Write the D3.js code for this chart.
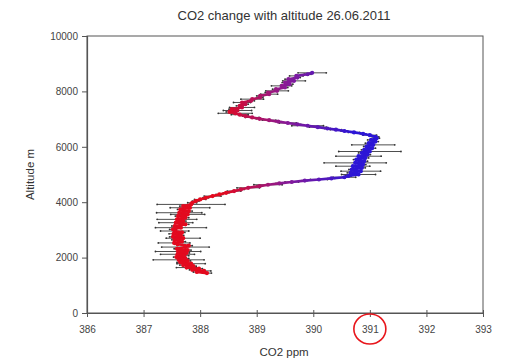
<!DOCTYPE html>
<html>
<head>
<meta charset="utf-8">
<script src="https://cdn.jsdelivr.net/npm/d3@7"></script>
<style>
body { margin: 0; background: #fff; }
text { font-family: "Liberation Sans", Arial, sans-serif; }
</style>
</head>
<body>
<div id="chart"></div>
<script>
// profile: altitude (m), CO2 (ppm), error half width (ppm)
var altitude = [1440, 1480, 1520, 1560, 1600, 1640, 1690, 1730, 1780, 1830, 1880, 1920, 1970, 2020, 2070, 2120, 2170, 2220, 2270, 2320, 2380, 2430, 2480, 2530, 2580, 2640, 2700, 2750, 2800, 2860, 2910, 2960, 3020, 3080, 3140, 3200, 3260, 3320, 3380, 3440, 3500, 3560, 3620, 3680, 3740, 3800, 3860, 3920, 3980,
    4040, 4100, 4160, 4220, 4280, 4340, 4400, 4460, 4520, 4580, 4630, 4680, 4730, 4780, 4820, 4860, 4900,
    4950, 5000, 5060, 5120, 5180, 5240, 5300, 5360, 5420, 5480, 5540, 5600, 5660, 5720, 5780, 5830, 5890, 5950, 6010, 6070, 6130, 6190, 6250, 6310, 6360,
    6420, 6470, 6520, 6570, 6620, 6660, 6710, 6760, 6810, 6860, 6910, 6960, 7010, 7060, 7110, 7160, 7210,
    7260, 7310, 7360, 7420, 7480, 7540, 7600, 7660, 7720, 7780, 7840, 7900, 7960, 8020, 8080, 8140, 8200, 8260, 8320, 8380, 8440, 8500, 8560, 8620, 8670];
var co2 = [388.12, 387.94, 388.07, 387.86, 387.98, 387.76, 387.88, 387.70, 387.84, 387.65, 387.78, 387.62, 387.74, 387.58, 387.72, 387.60, 387.76, 387.61, 387.78, 387.59, 387.74, 387.80, 387.60, 387.54, 387.68, 387.55, 387.70, 387.52, 387.66, 387.53, 387.68, 387.55, 387.52, 387.66, 387.55, 387.74, 387.57, 387.70, 387.59, 387.74, 387.61, 387.78, 387.63, 387.80, 387.65, 387.82, 387.70, 387.84, 387.86,
    387.92, 388.00, 388.10, 388.22, 388.34, 388.46, 388.60, 388.72, 388.85, 389.05, 389.20, 389.40, 389.62, 389.85, 390.10, 390.32, 390.55,
    390.62, 390.80, 390.66, 390.84, 390.68, 390.86, 390.70, 390.88, 390.74, 390.90, 390.76, 390.92, 390.80, 390.96, 390.86, 391.00, 390.90, 391.04, 390.94, 391.06, 390.98, 391.10, 391.02, 391.12, 391.10,
    391.00, 390.88, 390.72, 390.55, 390.40, 390.25, 390.08, 389.90, 389.72, 389.55, 389.38, 389.22, 389.05, 388.92, 388.80, 388.70, 388.62,
    388.52, 388.66, 388.56, 388.74, 388.70, 388.80, 388.74, 388.90, 388.92, 389.06, 389.06, 389.22, 389.20, 389.36, 389.34, 389.50, 389.44, 389.58, 389.50, 389.66, 389.56, 389.72, 389.70, 389.90, 389.98];
var errs = [0.08, 0.06, 0.12, 0.05, 0.06, 0.18, 0.05, 0.06, 0.25, 0.06, 0.05, 0.45, 0.06, 0.05, 0.08, 0.30, 0.05, 0.40, 0.06, 0.05, 0.42, 0.06, 0.05, 0.28, 0.06, 0.05, 0.30, 0.06, 0.05, 0.08, 0.05, 0.25, 0.06, 0.45, 0.05, 0.06, 0.30, 0.05, 0.35, 0.06, 0.05, 0.30, 0.40, 0.06, 0.05, 0.35, 0.06, 0.60, 0.08,
    0.06, 0.10, 0.05, 0.15, 0.06, 0.05, 0.12, 0.06, 0.20, 0.05, 0.25, 0.06, 0.12, 0.05, 0.15, 0.06, 0.20,
    0.05, 0.30, 0.06, 0.35, 0.05, 0.06, 0.30, 0.05, 0.55, 0.06, 0.05, 0.06, 0.40, 0.05, 0.06, 0.55, 0.05, 0.06, 0.05, 0.38, 0.06, 0.05, 0.06, 0.05, 0.06,
    0.12, 0.05, 0.10, 0.06, 0.10, 0.05, 0.15, 0.28, 0.06, 0.15, 0.05, 0.12, 0.06, 0.12, 0.05, 0.15, 0.30,
    0.06, 0.25, 0.05, 0.22, 0.06, 0.05, 0.15, 0.06, 0.20, 0.05, 0.06, 0.15, 0.05, 0.20, 0.06, 0.05, 0.18, 0.06, 0.05, 0.20, 0.06, 0.05, 0.12, 0.06, 0.25];

var xTicks = [386, 387, 388, 389, 390, 391, 392, 393];
var yTicks = [0, 2000, 4000, 6000, 8000, 10000];

var W = 508, H = 364;
// plot box ("top" is taken by window.top, so plain names here)
var pLeft = 87, pRight = 483, pTop = 36, pBottom = 313;

var svg = d3.select("#chart").append("svg")
    .attr("width", W)
    .attr("height", H)
    .style("display", "block");

var x = d3.scaleLinear().domain([386, 393]).range([pLeft, pRight]);
var y = d3.scaleLinear().domain([0, 10000]).range([pBottom, pTop]);
var colour = d3.scaleLinear()
    .domain([388.4, 389.5, 390.7])
    .range(["#e30a1f", "#8a1a96", "#2c16d6"])
    .clamp(true);

var pts = altitude.map(function(a, i) {
    return {alt: a, v: co2[i], e: errs[i]};
});

// frame
svg.append("rect")
    .attr("x", pLeft).attr("y", pTop)
    .attr("width", pRight - pLeft).attr("height", pBottom - pTop)
    .attr("fill", "none")
    .attr("stroke", "#555")
    .attr("stroke-width", 1);

// y axis
var yAxis = svg.append("g")
    .attr("transform", "translate(" + pLeft + ",0)")
    .call(d3.axisLeft(y).tickValues(yTicks).tickSize(5).tickPadding(4).tickFormat(d3.format("d")));
yAxis.select(".domain").attr("stroke", "#555").attr("stroke-width", 1.2);
yAxis.selectAll(".tick line").attr("stroke", "#555");
yAxis.selectAll("text").attr("font-size", 10).attr("fill", "#444");

// x axis, ticks cross the line
var xAxis = svg.append("g")
    .attr("transform", "translate(0," + pBottom + ")")
    .call(d3.axisBottom(x).tickValues(xTicks).tickSizeInner(4).tickSizeOuter(0).tickPadding(9).tickFormat(d3.format("d")));
xAxis.select(".domain").attr("stroke", "#555").attr("stroke-width", 1.2);
xAxis.selectAll(".tick line").attr("stroke", "#555").attr("y1", -3);
xAxis.selectAll("text").attr("font-size", 10).attr("fill", "#444");

// error bars
var eb = svg.append("g").attr("class", "errorbars");
eb.selectAll("line.bar")
    .data(pts)
    .enter().append("line")
    .attr("class", "bar")
    .attr("x1", function(d) { return x(d.v - d.e); })
    .attr("x2", function(d) { return x(d.v + d.e); })
    .attr("y1", function(d) { return y(d.alt); })
    .attr("y2", function(d) { return y(d.alt); })
    .attr("stroke", "#3a3a3a")
    .attr("stroke-width", 0.9);
eb.selectAll("circle.cap")
    .data(pts.flatMap(function(d) {
        return [{v: d.v - d.e, alt: d.alt}, {v: d.v + d.e, alt: d.alt}];
    }))
    .enter().append("circle")
    .attr("class", "cap")
    .attr("cx", function(d) { return x(d.v); })
    .attr("cy", function(d) { return y(d.alt); })
    .attr("r", 0.9)
    .attr("fill", "#333");

// connecting line, each piece coloured by its value
var segs = d3.pairs(pts);
svg.append("g").selectAll("line")
    .data(segs)
    .enter().append("line")
    .attr("x1", function(d) { return x(d[0].v); })
    .attr("y1", function(d) { return y(d[0].alt); })
    .attr("x2", function(d) { return x(d[1].v); })
    .attr("y2", function(d) { return y(d[1].alt); })
    .attr("stroke", function(d) { return colour((d[0].v + d[1].v) / 2); })
    .attr("stroke-width", 2.6)
    .attr("stroke-linecap", "round");

svg.append("g").selectAll("circle")
    .data(pts)
    .enter().append("circle")
    .attr("cx", function(d) { return x(d.v); })
    .attr("cy", function(d) { return y(d.alt); })
    .attr("r", 2.1)
    .attr("fill", function(d) { return colour(d.v); });

// titles
svg.append("text")
    .attr("x", 284).attr("y", 20)
    .attr("text-anchor", "middle")
    .attr("font-size", 13)
    .attr("fill", "#333")
    .text("CO2 change with altitude 26.06.2011");

svg.append("text")
    .attr("x", 284).attr("y", 356)
    .attr("text-anchor", "middle")
    .attr("font-size", 11.5)
    .attr("fill", "#333")
    .text("CO2 ppm");

svg.append("text")
    .attr("transform", "translate(34," + y(5000) + ") rotate(-90)")
    .attr("text-anchor", "middle")
    .attr("font-size", 11.5)
    .attr("fill", "#333")
    .text("Altitude m");

// red circle round the 391 label
svg.append("ellipse")
    .attr("cx", x(391)).attr("cy", 329)
    .attr("rx", 16).attr("ry", 15)
    .attr("fill", "none")
    .attr("stroke", "#e8161c")
    .attr("stroke-width", 1.6);
</script>
</body>
</html>
